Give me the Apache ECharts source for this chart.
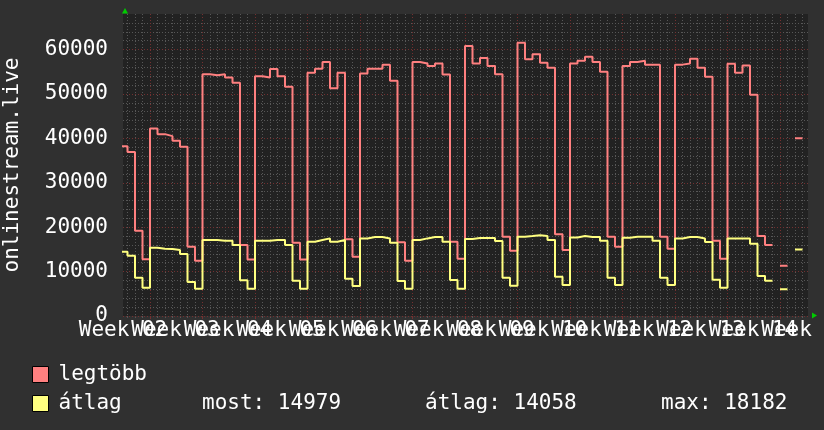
<!DOCTYPE html>
<html>
<head>
<meta charset="utf-8">
<script src="https://cdn.jsdelivr.net/npm/echarts@6/dist/echarts.min.js"></script>
<style>
  html, body { margin: 0; padding: 0; background: #303030; }
  #chart { width: 824px; height: 430px; }
</style>
</head>
<body>
<div id="chart"></div>
<script>
// ---- data (one value per day) ----
const weekLabels = ['Week 02','Week 03','Week 04','Week 05','Week 06','Week 07','Week 08',
                    'Week 09','Week 10','Week 11','Week 12','Week 13','Week 14','Week 15'];
const seriesNames = ['legtöbb', 'átlag'];
const maxValues = [
  38250, 36900, 19200, 12800,
  42200, 40950, 40500, 39450, 38100, 15600, 12450,
  54450, 54200, 54450, 53700, 52500, 16000, 12750,
  54000, 53700, 55600, 54000, 51600, 16500, 12750,
  54750, 55700, 57200, 51300, 54750, 17300, 13350,
  54600, 55650, 55650, 56600, 52950, 16600, 12450,
  57200, 56850, 56300, 56850, 54400, 16700, 12900,
  60800, 56850, 58100, 56300, 54450, 17850, 14700,
  61500, 57800, 58950, 57000, 55900, 18400, 14850,
  56850, 57450, 58350, 57200, 55000, 17850, 15600,
  56300, 57200, 57450, 56600, 56600, 17850, 15150,
  56600, 56850, 57900, 55900, 53850, 16950, 12900,
  56800, 54750, 56400, 49800, 18000, 16000, null,
  11300, null, 40000
];
const avgValues = [
  14475, 13575, 8625, 6375,
  15375, 15150, 15075, 14850, 13950, 7650, 6150,
  17100, 17100, 16950, 16950, 15975, 8025, 6150,
  16950, 16950, 17100, 17100, 15975, 7950, 6150,
  16725, 17100, 17475, 16725, 17100, 8400, 6750,
  17475, 17775, 17775, 17475, 16500, 7875, 6150,
  17100, 17475, 17775, 17775, 16725, 8100, 6150,
  17325, 17550, 17550, 17550, 16875, 8625, 6825,
  17850, 18000, 18182, 18000, 17100, 8850, 6975,
  17700, 18000, 17775, 17775, 16950, 8625, 6975,
  17625, 17850, 17850, 17850, 16950, 8625, 6975,
  17475, 17775, 17775, 17475, 16650, 8175, 6375,
  17475, 17475, 17475, 16275, 9000, 7950, null,
  6000, null, 14979
];
const statLabels = ['most: 14979', 'átlag: 14058', 'max: 18182'];

// ---- layout / style ----
const FONT = "'DejaVu Sans Mono', monospace";
const DAY_SHIFT = 0.4;          // day boundaries sit 0.4 day left of the plot's left edge
const X_SPAN = 685 / 7.5;       // visible days
const TEXT = '#ffffff';
const MINOR = '#575757';
const MAJOR = '#733030';

function steps(vals) {
  const pts = [];
  vals.forEach((v, k) => {
    if (v == null) { pts.push([k - DAY_SHIFT, '-']); }
    else { pts.push([k - DAY_SHIFT, v]); pts.push([k + 1 - DAY_SHIFT, v]); }
  });
  return pts;
}

const gridBase = { top: 14, bottom: 114, containLabel: false, outerBoundsMode: 'none' };
const labelStyle = { color: TEXT, fontSize: 21, fontFamily: FONT, margin: 4, showMinLabel: true, hideOverlap: false };
// week labels are split over two label-only axes (even / odd weeks) so that the
// overlapping texts are all drawn, as in the reference
function weekLabelAxis(gridIndex, max, first) {
  return { gridIndex, type: 'value', position: 'bottom', offset: 0, min: 0, max, interval: 14,
    axisLine: { show: false }, axisTick: { show: false }, splitLine: { show: false },
    axisLabel: Object.assign({}, labelStyle, {
      formatter: v => { const q = v / 14, j = Math.round(q);
        return Math.abs(q - j) < 0.001 ? (weekLabels[first + 2 * j] || '') : ''; } }) };
}

const chart = echarts.init(document.getElementById('chart'), null, { renderer: 'canvas' });
chart.setOption({
  backgroundColor: '#303030',
  animation: false,
  grid: [
    Object.assign({ left: 123, right: 16, show: true, backgroundColor: '#222222', borderWidth: 0 }, gridBase),
    Object.assign({ left: 127.5, width: 675, show: false }, gridBase),
    Object.assign({ left: 150, width: 630, show: false }, gridBase),
    Object.assign({ left: 175.5, right: 16, show: false }, gridBase)
  ],
  xAxis: [
    weekLabelAxis(0, X_SPAN, 0),
    { gridIndex: 1, type: 'value', position: 'bottom', min: 0, max: 90, interval: 1, z: 0,
      axisLine: { show: false }, axisLabel: { show: false },
      axisTick: { show: true, length: 2, lineStyle: { color: MINOR } },
      splitLine: { show: true, lineStyle: { color: MINOR, width: 1, type: [1, 2] } } },
    { gridIndex: 2, type: 'value', position: 'bottom', min: 0, max: 84, interval: 7, z: 1,
      axisLine: { show: false }, axisLabel: { show: false },
      axisTick: { show: true, length: 3, lineStyle: { color: MAJOR } },
      splitLine: { show: true, lineStyle: { color: MAJOR, width: 1, type: [1, 2] } } },
    weekLabelAxis(3, X_SPAN - 7, 1)
  ],
  yAxis: [
    { gridIndex: 0, type: 'value', min: 0, max: 68000, interval: 10000, z: 1,
      name: 'onlinestream.live', nameLocation: 'middle', nameGap: 100,
      nameTextStyle: { color: TEXT, fontSize: 21, fontFamily: FONT },
      axisLine: { show: false }, axisTick: { show: false },
      axisLabel: { color: TEXT, fontSize: 21, fontFamily: FONT, margin: 15, showMinLabel: true,
        formatter: v => (v % 10000 === 0 ? String(v) : '') },
      splitLine: { show: true, showMaxLine: false, lineStyle: { color: MAJOR, width: 1, type: [1, 2] } } },
    { gridIndex: 0, type: 'value', min: 0, max: 68000, interval: 2000, z: 0, position: 'left',
      axisLine: { show: false }, axisTick: { show: false }, axisLabel: { show: false },
      splitLine: { show: true, showMaxLine: false, lineStyle: { color: MINOR, width: 1, type: [1, 2] } } },
    { gridIndex: 1, type: 'value', min: 0, max: 1, show: false },
    { gridIndex: 2, type: 'value', min: 0, max: 1, show: false },
    { gridIndex: 3, type: 'value', min: 0, max: 1, show: false }
  ],
  legend: {
    data: seriesNames, orient: 'vertical', left: 32, top: 364, padding: 0,
    itemWidth: 16, itemHeight: 16, itemGap: 8, icon: 'rect', selectedMode: false,
    itemStyle: { borderColor: '#000', borderWidth: 1 },
    textStyle: { color: TEXT, fontSize: 21, fontFamily: FONT, lineHeight: 21, padding: [0, 0, 0, 5] }
  },
  series: [
    { name: seriesNames[0], type: 'line', xAxisIndex: 0, yAxisIndex: 0, z: 3,
      data: steps(maxValues), showSymbol: false, symbol: 'none', connectNulls: false,
      color: '#ff8080', lineStyle: { color: '#ff8080', width: 2 } },
    { name: seriesNames[1], type: 'line', xAxisIndex: 0, yAxisIndex: 0, z: 4,
      data: steps(avgValues), showSymbol: false, symbol: 'none', connectNulls: false,
      color: '#ffff80', lineStyle: { color: '#ffff80', width: 2 } }
  ],
  graphic: [
    { type: 'polygon', shape: { points: [[122, 13.5], [128, 13.5], [125, 8]] }, style: { fill: '#00cc00' }, silent: true },
    { type: 'polygon', shape: { points: [[812, 312.5], [812, 318.5], [817, 315.5]] }, style: { fill: '#00cc00' }, silent: true },
    { type: 'text', left: 202, top: 393, style: { text: statLabels[0], fill: TEXT, font: '21px ' + FONT } },
    { type: 'text', left: 425, top: 393, style: { text: statLabels[1], fill: TEXT, font: '21px ' + FONT } },
    { type: 'text', left: 661, top: 393, style: { text: statLabels[2], fill: TEXT, font: '21px ' + FONT } }
  ]
});
</script>
</body>
</html>
